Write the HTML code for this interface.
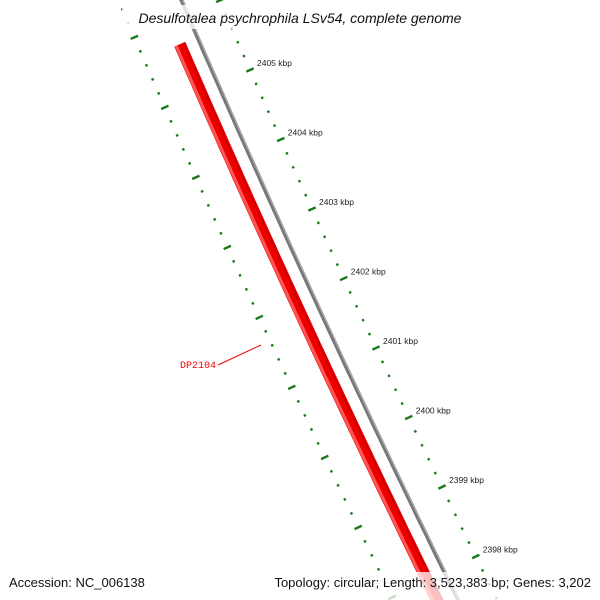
<!DOCTYPE html>
<html><head><meta charset="utf-8"><style>
html,body{margin:0;padding:0;background:#fff;width:600px;height:600px;overflow:hidden;}
svg{display:block;overflow:hidden;font-family:"Liberation Sans","DejaVu Sans",sans-serif;}
</style></head><body>
<svg id="map" width="600" height="600" viewBox="0 0 600 600" xmlns="http://www.w3.org/2000/svg">
<defs><clipPath id="clip"><rect x="0" y="0" width="600" height="600"/></clipPath></defs>
<g id="layer" clip-path="url(#clip)"></g>
<rect x="122" y="5" width="356" height="24" fill="#fff" fill-opacity="0.8"/>
<text x="300" y="23" text-anchor="middle" font-size="14" font-style="italic" fill="#111">Desulfotalea psychrophila LSv54, complete genome</text>
<rect x="0" y="572" width="600" height="28" fill="#fff" fill-opacity="0.75"/>
<text x="9" y="587" font-size="13" fill="#111">Accession: NC_006138</text>
<text x="591" y="587" text-anchor="end" font-size="13" fill="#111">Topology: circular; Length: 3,523,383 bp; Genes: 3,202</text>
</svg>
<script>
const tickKbp = [2405, 2404, 2403, 2402, 2401, 2400, 2399, 2398];
const tickLabels = ["2405 kbp","2404 kbp","2403 kbp","2402 kbp","2401 kbp","2400 kbp","2399 kbp","2398 kbp"];
const featureName = ["DP2104"];
const featureStartKbp = [2405.68];
const featureEndKbp = [2396.0];

const NS = "http://www.w3.org/2000/svg";
const layer = document.getElementById("layer");
function base(k){ const n = 2405 - k; return [250 + 30.5*n + 0.25*n*n, 70 + 69.5*n]; }
function tang(k){ const n = 2405 - k; const dx = 30.5 + 0.5*n, dy = 69.5; const L = Math.hypot(dx,dy); return [dx/L, dy/L]; }
function pos(k, r){ const b = base(k), t = tang(k); return [b[0] - t[1]*r, b[1] + t[0]*r]; }
function arcPath(k1, k2, r){
  let d = ""; const steps = 60;
  for(let i=0;i<=steps;i++){ const k = k1 + (k2-k1)*i/steps; const p = pos(k,r); d += (i?"L":"M")+p[0].toFixed(1)+","+p[1].toFixed(1); }
  return d;
}
function mk(tag, attrs){ const e = document.createElementNS(NS, tag); for(const a in attrs) e.setAttribute(a, attrs[a]); layer.appendChild(e); return e; }

const gb = mk("path", {d: arcPath(2406.3, 2396.5, 35), stroke: "#777", "stroke-width": 4, fill: "none"});


const gb2 = mk("path", {d: arcPath(2406.3, 2396.5, 33.8), stroke: "#aaa", "stroke-width": 1.2, fill: "none"});



for (let i=0;i<featureName.length;i++){
  const f = mk("path", {d: arcPath(featureStartKbp[i], featureEndKbp[i], 54), stroke: "#ee0000", "stroke-width": 12, fill: "none"});
  
  
  const f2 = mk("path", {d: arcPath(featureStartKbp[i], featureEndKbp[i], 58), stroke: "#ff5555", "stroke-width": 3, fill: "none"});
  
  
  const f3 = mk("path", {d: arcPath(featureStartKbp[i], featureEndKbp[i], 50), stroke: "#cc0000", "stroke-width": 2, fill: "none"});
  
  
}

[0, 93].forEach(function(r, ri){
  for (let m = 12035; m >= 11980; m--){
    const k = m/5;
    const major = (m % 5 === 0);
    const len = major ? 4 : 1.2;
    const a = pos(k, r - len), b = pos(k, r + len);
    if (Math.max(a[1],b[1]) < -5 || Math.min(a[1],b[1]) > 605) continue;
    const t = mk("line", {x1:a[0], y1:a[1], x2:b[0], y2:b[1], stroke:"#1a7a1a", "stroke-width": 2.4});
    
    
  }
});

tickKbp.forEach(function(k, i){
  const p = pos(k, 0);
  const t = mk("text", {x: p[0] + 7, y: p[1] - 4, "font-size": 8.5, fill: "#222"});
  t.textContent = tickLabels[i];
  
  
});

const ll = mk("line", {x1: 218, y1: 365, x2: 261, y2: 345, stroke: "#e00", "stroke-width": 1});


const lt = mk("text", {x: 180, y: 368, "font-size": 10, fill: "#e00", "font-family": "Liberation Mono, monospace"});
lt.textContent = featureName[0];


</script>
</body></html>
